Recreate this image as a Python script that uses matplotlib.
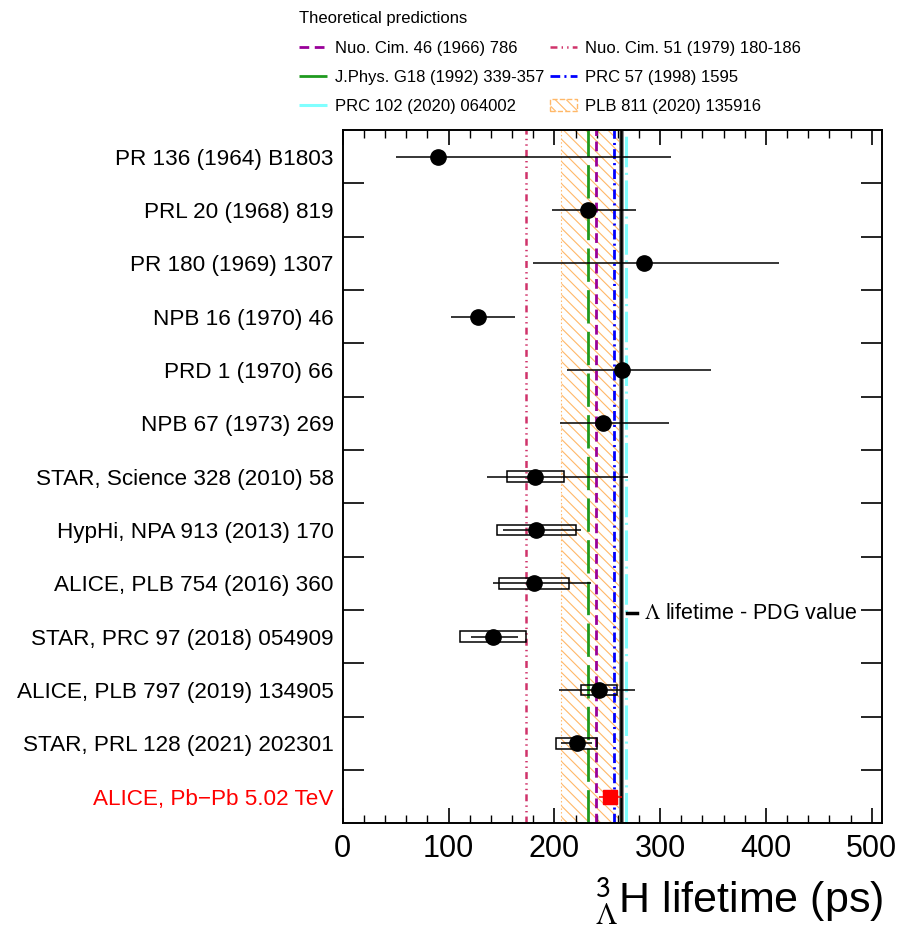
import matplotlib
matplotlib.use("Agg")
import matplotlib.pyplot as plt
from matplotlib.lines import Line2D
from matplotlib.patches import Patch, Rectangle
import numpy as np

plt.rcParams['font.family'] = ['Liberation Sans', 'DejaVu Sans']
plt.rcParams['mathtext.fontset'] = 'stix'
plt.rcParams['lines.scale_dashes'] = False
plt.rcParams['hatch.linewidth'] = 0.8

# ---- measurements (ps) ----
labels = ["PR 136 (1964) B1803", "PRL 20 (1968) 819", "PR 180 (1969) 1307",
          "NPB 16 (1970) 46", "PRD 1 (1970) 66", "NPB 67 (1973) 269",
          "STAR, Science 328 (2010) 58", "HypHi, NPA 913 (2013) 170",
          "ALICE, PLB 754 (2016) 360", "STAR, PRC 97 (2018) 054909",
          "ALICE, PLB 797 (2019) 134905", "STAR, PRL 128 (2021) 202301",
          "ALICE, Pb\u2212Pb 5.02 TeV"]
tau = [90, 232, 285, 128, 264, 246, 182, 183, 181, 142, 242, 221, 253]
stat_lo = [40, 34, 105, 26, 52, 41, 46, 32, 39, 21, 38, 15, 11]
stat_hi = [220, 45, 127, 35, 84, 62, 88, 42, 54, 24, 34, 15, 11]
syst = [0, 0, 0, 0, 0, 0, 27, 37, 33, 31, 17, 19, 6]

# ---- theory ----
pdg_lambda = 263.2
th_names = ["Nuo. Cim. 46 (1966) 786", "J.Phys. G18 (1992) 339-357",
            "PRC 102 (2020) 064002", "Nuo. Cim. 51 (1979) 180-186",
            "PRC 57 (1998) 1595"]
th_vals = [239.3, 232, 268, 173, 256]
band_lo, band_hi = 206, 261

c_purple = '#990099'
c_green = '#1f9a1f'
c_cyan = '#80ffff'
c_pink = '#d0336a'
c_blue = '#0000ff'
c_orange = '#ffb868'
th_colors = [c_purple, c_green, c_cyan, c_pink, c_blue]
th_styles = [(0, (7, 4)), (0, (24, 6)), (0, (22, 4, 1.5, 4)),
             (0, (5, 3, 1, 3, 1, 3)), (0, (7, 3, 1.5, 3))]
th_widths = [2.0, 2.0, 2.2, 1.8, 2.0]

fig = plt.figure(figsize=(9.01, 9.31), dpi=100)
ax = fig.add_axes([0.3804, 0.1157, 0.5989, 0.7447])

n = len(labels)
ypos = np.arange(n)[::-1]

ax.axvspan(band_lo, band_hi, facecolor='none', edgecolor=c_orange,
           hatch='\\\\\\', lw=0.8, linestyle=':', zorder=1)
for v, c, s, w in zip(th_vals, th_colors, th_styles, th_widths):
    ax.axvline(v, color=c, ls=s, lw=w, zorder=2)
ax.axvline(pdg_lambda, color='#888888', lw=3.5, zorder=2)
ax.axvline(pdg_lambda, color='k', lw=1.8, zorder=2)

for i in range(n):
    col = 'red' if i == n - 1 else 'k'
    if syst[i] > 0:
        ax.add_patch(Rectangle((tau[i] - syst[i], ypos[i] - 0.1), 2 * syst[i], 0.2,
                               fill=False, edgecolor=col, lw=1.1, zorder=3))
    ax.errorbar(tau[i], ypos[i], xerr=[[stat_lo[i]], [stat_hi[i]]],
                fmt='s' if i == n - 1 else 'o', color=col,
                ms=9.5 if i == n - 1 else 11, elinewidth=1.1, capsize=0, zorder=4)

# PDG label
ax.plot([268.5, 278.5], [3.44, 3.44], color='k', lw=2.5, zorder=5)
ax.text(285, 3.44, r"$\Lambda$ lifetime - PDG value", fontsize=15.5,
        va='center', ha='left', zorder=5)

ax.set_xlim(0, 510)
ax.set_ylim(-0.5, n - 0.5)
ax.set_xticks(np.arange(0, 501, 100))
ax.set_xticks(np.arange(0, 510, 20), minor=True)
ax.set_yticks(np.arange(0.5, n - 1, 1))
ax.set_yticks(ypos, minor=True)
ax.set_yticklabels([], minor=False)
ax.set_yticklabels(labels, minor=True, fontsize=16.2)
ax.get_yticklabels(minor=True)[-1].set_color('red')
ax.tick_params(axis='x', which='both', direction='in', top=True, labelsize=22, pad=8)
ax.tick_params(axis='x', which='major', length=11, width=1.2)
ax.tick_params(axis='x', which='minor', length=6, width=1.0)
ax.tick_params(axis='y', which='major', direction='in', right=True, length=15, width=1.2)
ax.tick_params(axis='y', which='minor', length=0, pad=6.5)
for sp in ax.spines.values():
    sp.set_linewidth(1.4)

fig.text(883 / 901, 1 - 914 / 931, r"${}^{\mathsf{3}}_{\Lambda}$H lifetime (ps)",
         fontsize=31, ha='right', va='baseline')

handles = []
for c, s, w in zip(th_colors, th_styles, th_widths):
    handles.append(Line2D([], [], color=c, ls=s, lw=w))
handles.append(Patch(facecolor='none', edgecolor=c_orange, hatch='\\\\\\',
                     linestyle='--', lw=1.0))
leg_labels = th_names + ["PLB 811 (2020) 135916"]
fig.legend(handles, leg_labels, loc='upper left', ncol=2,
           bbox_to_anchor=(291 / 901, 1 - 3 / 931), frameon=False,
           fontsize=12, title="Theoretical predictions", title_fontsize=12,
           alignment='left', borderpad=0, handlelength=1.65, handletextpad=0.5,
           columnspacing=0.3, labelspacing=0.85)

fig.savefig("out.png", dpi=100)
